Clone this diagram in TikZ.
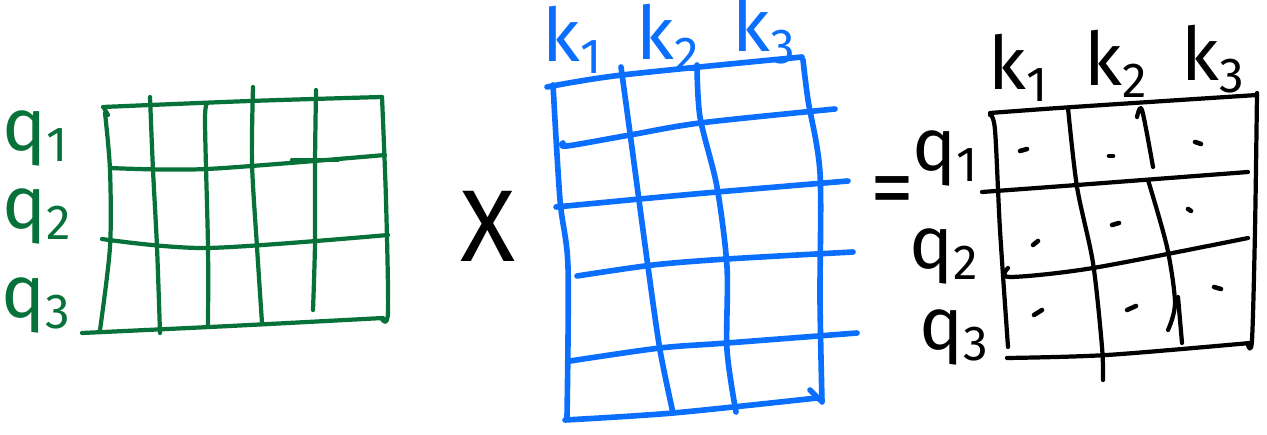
\documentclass[tikz,border=0pt]{standalone}
\usepackage{fontspec}
\setmainfont{Fira Sans}
\definecolor{gr}{HTML}{067138}
\definecolor{bl}{HTML}{0A6EFF}
\newcommand{\hlab}[2]{#1\raisebox{-0.3ex}{\fontsize{28}{28}\selectfont #2}}
\tikzset{
  gline/.style={draw=gr,line width=2.4pt,line cap=round,line join=round},
  bline/.style={draw=bl,line width=3.2pt,line cap=round,line join=round},
  kline/.style={draw=black,line width=2.4pt,line cap=round,line join=round},
  lab/.style={inner sep=0pt,font=\fontsize{42}{44}\selectfont},
  dotmark/.style={draw=black,line width=2.6pt,line cap=round}
}
\begin{document}
\begin{tikzpicture}[x=0.02cm,y=-0.02cm]
\useasboundingbox (0,0) rectangle (1267,435);
% ---------- green matrix ----------
\draw[gline] plot[smooth] coordinates {(103,107) (250,101) (382,97)};
\draw[gline] plot[smooth] coordinates {(382,97) (386,200) (388,312) (382,319)};
\draw[gline] plot[smooth] coordinates {(82,333) (230,326) (383,318)};
\draw[gline] plot[smooth] coordinates {(104,108) (108,115)};
\draw[gline] plot[smooth] coordinates {(105,113) (110,170) (110,247) (100,330)};
\draw[gline] plot[smooth] coordinates {(110,168) (207,169) (385,155)};
\draw[gline] (292,160) -- (338,160);
\draw[gline] plot[smooth] coordinates {(102,239) (207,248) (388,235)};
\draw[gline] plot[smooth] coordinates {(150,97) (153,170) (157,247) (160,333)};
\draw[gline] plot[smooth] coordinates {(208,103) (205,120) (208,247) (208,325)};
\draw[gline] plot[smooth] coordinates {(253,87) (252,163) (257,247) (262,323)};
\draw[gline] plot[smooth] coordinates {(316,90) (315,163) (315,243) (313,310)};
\node[lab,text=gr] (gq1) at (35,138) {\hlab{q}{1}};
\node[lab,text=gr] (gq2) at (37,216) {\hlab{q}{2}};
\node[lab,text=gr] (gq3) at (36,305) {\hlab{q}{3}};
% ---------- times ----------
\node[lab,font=\fontsize{58}{60}\selectfont] (times) at (488,226) {X};
% ---------- blue matrix ----------
\draw[bline] plot[smooth] coordinates {(547,87) (622,75) (802,57)};
\draw[bline] plot[smooth] coordinates {(553,85) (560,200) (568,267) (567,417)};
\draw[bline] plot[smooth] coordinates {(621,67) (630,133) (648,267) (660,350) (673,413)};
\draw[bline] plot[smooth] coordinates {(697,65) (700,117) (717,187) (727,267) (727,350) (736,412)};
\draw[bline] plot[smooth] coordinates {(803,60) (808,100) (820,173) (820,300) (822,402)};
\draw[bline] (810,390) -- (820,400);
\draw[bline] plot[smooth] coordinates {(565,420) (673,413) (817,398)};
\draw[bline] plot[smooth] coordinates {(563,143) (567,146) (630,135) (700,123) (835,109)};
\draw[bline] plot[smooth] coordinates {(556,207) (640,199) (717,192) (848,181)};
\draw[bline] plot[smooth] coordinates {(577,276) (653,265) (727,259) (853,252)};
\draw[bline] plot[smooth] coordinates {(570,361) (660,348) (727,343) (857,333)};
\node[lab,text=bl] (bk1) at (572,40) {\hlab{k}{1}};
\node[lab,text=bl] (bk2) at (668,38) {\hlab{k}{2}};
\node[lab,text=bl] (bk3) at (764,30) {\hlab{k}{3}};
% ---------- equals ----------
\node[lab,font=\fontsize{50}{52}\selectfont] (eq) at (892,197) {=};
% ---------- black matrix ----------
\draw[kline] plot[smooth] coordinates {(990,113) (1073,107) (1257,95)};
\draw[kline] plot[smooth] coordinates {(990,115) (995,130) (1000,230) (1008,347)};
\draw[kline] plot[smooth] coordinates {(1257,93) (1255,230) (1252,340) (1248,345)};
\draw[kline] plot[smooth] coordinates {(1068,108) (1077,187) (1093,263) (1102,347) (1103,380)};
\draw[kline] plot[smooth] coordinates {(1137,117) (1142,110) (1153,167)};
\draw[kline] plot[smooth] coordinates {(1148,180) (1167,247) (1175,303) (1168,330)};
\draw[kline] (1178,297) -- (1182,343);
\draw[kline] plot[smooth] coordinates {(982,192) (1077,185) (1248,172)};
\draw[kline] plot[smooth] coordinates {(1008,268) (1010,277) (1093,268) (1248,238)};
\draw[kline] plot[smooth] coordinates {(1007,358) (1107,355) (1250,343)};
\draw[dotmark] (1020,151) -- (1027,149);
\draw[dotmark] (1109,156) -- (1113,156);
\draw[dotmark] (1195,142) -- (1201,144);
\draw[dotmark] (1188,209) -- (1191,211);
\draw[dotmark] (1112,225) -- (1119,223);
\draw[dotmark] (1033,245) -- (1038,241);
\draw[dotmark] (1214,287) -- (1221,289);
\draw[dotmark] (1127,310) -- (1136,306);
\draw[dotmark] (1034,315) -- (1042,310);
\node[lab] (kk1) at (1018,68) {\hlab{k}{1}};
\node[lab] (kk2) at (1116,64) {\hlab{k}{2}};
\node[lab] (kk3) at (1213,59) {\hlab{k}{3}};
\node[lab] (kq1) at (945,158) {\hlab{q}{1}};
\node[lab] (kq2) at (944,256) {\hlab{q}{2}};
\node[lab] (kq3) at (954,337) {\hlab{q}{3}};
\end{tikzpicture}
\end{document}
